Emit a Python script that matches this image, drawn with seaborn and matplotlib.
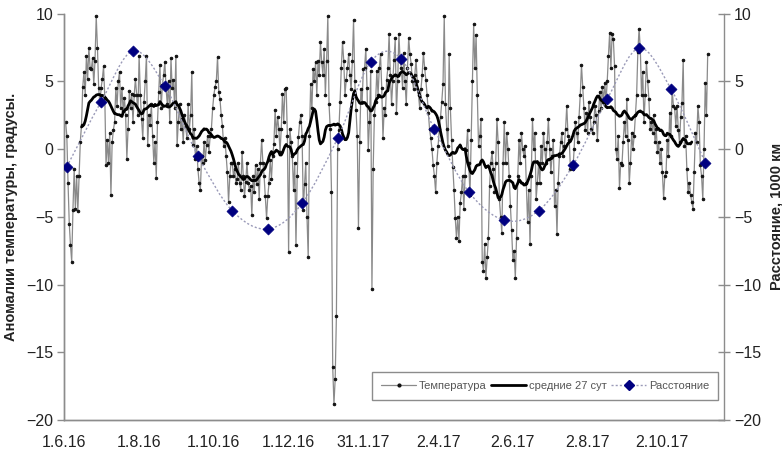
import numpy as np
import pandas as pd
import matplotlib
matplotlib.use('Agg')
import matplotlib.pyplot as plt
import matplotlib.dates as mdates
from matplotlib.lines import Line2D
from matplotlib.path import Path
from matplotlib.patches import PathPatch
import seaborn as sns

# daily temperature anomalies, starting 2.6.2016
temp_start = '2016-06-02'
temperature = [
    2.0, 1.0, -2.5, -5.5, -7.1, -8.3, -4.5, -1.5, -4.4, -2.0,
    -4.6, -2.0, 0.5, 1.8, 4.6, 5.7, 4.0, 6.9, 5.2, 7.5,
    6.0, 5.9, 6.7, 4.8, 6.5, 9.8, 7.5, 4.5, 3.3, 4.5,
    5.2, 6.1, 3.8, -1.2, 0.7, -1.0, 1.2, -3.4, 0.5, 1.4,
    2.0, 4.5, 3.2, 5.0, 5.7, 3.0, 4.5, 2.8, 3.8, 2.5,
    -0.7, 1.5, 4.3, 3.0, 4.1, 2.0, 4.0, 5.2, 4.0, 2.5,
    6.9, 4.0, 2.2, 0.8, 3.5, 5.0, 6.9, 0.3, 2.5, 1.8,
    3.3, 1.0, -1.0, 0.5, -2.1, 2.0, 4.2, 6.2, 3.0, 4.7,
    5.5, 6.4, 4.5, 3.3, 5.0, 2.0, 6.7, 4.5, 5.1, 3.0,
    6.9, 0.3, 2.0, 3.3, 1.5, 2.2, 0.5, 2.5, 1.7, 0.8,
    3.3, 1.5, 2.5, 5.7, 0.3, 1.5, -0.7, 0.2, -1.5, -2.5,
    -3.0, -0.5, -1.0, 0.5, -0.8, 0.3, 1.0, -0.2, 1.0, 1.5,
    3.0, 4.0, 4.6, 5.0, 6.8, 4.2, 3.7, 2.5, 1.7, 0.2,
    0.8, -0.5, -1.7, -3.9, -2.0, -1.0, -1.0, -2.0, -1.5, -2.5,
    -2.2, -1.0, -2.5, -3.0, -0.2, -2.0, -3.5, -2.4, -1.0, -2.5,
    -3.0, -2.7, -4.9, -2.0, -3.2, -1.2, -2.6, -1.5, -3.7, -1.0,
    0.7, -1.0, -2.0, -3.5, -5.1, -3.5, -2.5, -0.8, -2.2, -0.5,
    0.4, 2.9, 1.0, 2.4, 1.5, -0.2, 1.5, 4.1, 2.0, 4.4,
    4.5, 1.0, -7.6, 1.5, 0.5, -0.5, -3.0, -1.0, -7.1, -2.0,
    0.9, 2.0, 2.5, 1.0, -4.5, -2.6, -1.0, -5.0, -8.0, 1.0,
    4.8, 3.0, 5.9, 5.0, 6.4, 4.0, 6.5, 5.5, 7.9, 6.4,
    5.5, 7.4, 4.0, 6.5, 9.8, 3.3, 1.5, -3.2, -16.1, -18.8,
    -17.0, -12.3, 0.0, 1.4, 3.5, 6.0, 7.9, 6.5, 4.0, 5.1,
    6.0, 7.0, 5.5, 4.4, 6.5, 9.5, 5.0, 2.9, 1.0, -5.8,
    0.5, 4.4, 3.5, 5.9, 6.0, 7.4, 4.5, -0.1, 2.0, 5.8,
    -10.3, -1.5, 2.5, 3.5, 5.8, 4.0, 6.0, 7.0, 4.5, 0.8,
    3.0, 2.5, 5.1, 6.0, 8.5, 5.5, 3.3, 5.0, 6.6, 8.2,
    2.7, 5.0, 8.5, 6.5, 6.0, 4.5, 7.1, 5.0, 3.3, 6.0,
    8.2, 7.0, 6.3, 5.0, 4.4, 5.5, 6.6, 5.0, 4.0, 3.0,
    4.4, 5.5, 7.1, 6.0, 5.1, 4.0, 2.7, 1.5, 0.8, 0.0,
    -1.2, -2.0, -3.2, -1.0, 0.2, 1.5, 2.4, 3.5, 4.8, 9.8,
    3.3, 1.5, 0.2, 7.0, 3.0, 0.7, -1.3, -3.0, -5.1, -6.6,
    -5.0, -6.8, -4.0, -3.2, -2.0, -4.4, -2.0, -0.1, 1.4, -1.0,
    -3.4, 0.7, 5.0, 9.2, 6.0, 8.4, 4.0, 0.2, 1.0, 2.2,
    -8.3, -9.0, -7.0, -9.5, -8.0, -6.6, -2.7, -1.0, -0.2, -1.5,
    -3.2, -1.0, 2.2, 0.5, -3.7, -5.0, -6.2, -1.0, 2.0, -1.0,
    1.2, 0.0, -2.0, -4.2, -6.0, -8.2, -7.5, -9.5, -6.6, -2.0,
    0.7, -1.0, 1.2, 0.0, -0.5, 0.2, -2.5, -5.4, -3.0, -7.0,
    -2.0, 2.2, 0.0, 1.2, -3.7, -2.5, -1.0, -2.5, 0.2, -1.0,
    1.2, 0.0, -1.0, 0.5, 2.2, 0.0, -1.7, -0.5, 0.7, -4.2,
    -3.0, -6.3, -2.5, -0.5, 0.5, 1.2, -0.5, 0.2, 1.5, 3.2,
    1.0, 0.7, -1.5, -1.0, -1.5, 0.0, 2.0, 1.2, 0.5, 2.4,
    4.0, 6.2, 4.6, 3.0, 1.4, 2.7, 1.2, 3.5, 2.4, 1.5,
    1.2, 2.0, 3.2, 2.5, 0.7, 2.8, 4.2, 3.0, 4.6, 3.5,
    4.9, 3.5, 5.0, 6.9, 8.6, 6.0, 8.5, 8.1, 6.1, 0.0,
    -0.7, 1.0, -2.9, -1.0, -1.2, 0.5, 2.0, 1.0, 3.7, 0.7,
    -2.5, -1.0, 1.2, 0.0, 1.0, 2.5, 4.0, 7.2, 8.9, 7.4,
    4.0, 5.7, 2.0, 4.0, 6.4, 5.0, 3.7, 1.5, 2.0, 1.2,
    2.5, 0.5, 1.5, -0.2, 0.5, -1.0, 0.0, -1.7, -3.6, -2.0,
    -1.7, 0.7, -0.5, 2.7, 1.0, 4.4, 3.2, 3.0, 1.7, 3.2,
    1.4, 0.5, 2.4, 3.4, 6.6, 0.2, 1.0, -1.5, -3.2, -2.5,
    -3.4, -3.9, -4.4, -1.7, 1.2, 0.5, 3.2, 2.0, -1.2, -2.0,
    -3.7, 0.0, 4.9, 2.5, 7.0,
]

# perigee dates and distance anomaly (1000 km)
dist_dates = ['2016-06-03', '2016-07-01', '2016-07-27', '2016-08-22', '2016-09-18',
              '2016-10-16', '2016-11-14', '2016-12-12', '2017-01-10', '2017-02-06',
              '2017-03-03', '2017-03-30', '2017-04-27', '2017-05-26', '2017-06-23',
              '2017-07-21', '2017-08-18', '2017-09-13', '2017-10-09', '2017-11-06']
distance = [-1.3, 3.5, 7.25, 4.65, -0.5, -4.55, -5.9, -4.0, 0.8, 6.45,
            6.65, 1.45, -3.15, -5.25, -4.55, -1.2, 3.7, 7.45, 4.45, -1.0]

tick_dates = ['2016-06-01', '2016-08-01', '2016-10-01', '2016-12-01', '2017-01-31',
              '2017-04-02', '2017-06-02', '2017-08-02', '2017-10-02']
tick_labels = ['1.6.16', '1.8.16', '1.10.16', '1.12.16', '31.1.17',
               '2.4.17', '2.6.17', '2.8.17', '2.10.17']

df = pd.DataFrame({'date': pd.date_range(temp_start, periods=len(temperature), freq='D'),
                   'temp': temperature})
df['ma27'] = df['temp'].rolling(27, center=True).mean()
dist = pd.DataFrame({'date': pd.to_datetime(dist_dates), 'dist': distance})

sns.set_theme(style='white')
plt.rcParams['font.family'] = ['Liberation Sans', 'DejaVu Sans']

fig = plt.figure(figsize=(7.82, 4.55), dpi=100)
ax = fig.add_axes([0.0823, 0.077, 0.844, 0.893])
ax2 = ax.twinx()

sns.lineplot(data=df, x='date', y='temp', ax=ax, color='#8a8a8a', lw=0.9,
             marker='o', markersize=1.8, markerfacecolor='#111111',
             markeredgecolor='#111111', errorbar=None, zorder=2)
sns.lineplot(data=df.dropna(), x='date', y='ma27', ax=ax, color='black', lw=2.0,
             errorbar=None, zorder=3)

# smoothed dotted line through the perigee points (Excel-style smoothing)
xs = mdates.date2num(dist['date'])
ys = dist['dist'].to_numpy()
pts = np.column_stack([xs, ys])
verts = [tuple(pts[0])]
codes = [Path.MOVETO]
for i in range(len(pts) - 1):
    p0 = pts[i - 1] if i > 0 else pts[i]
    p1, p2 = pts[i], pts[i + 1]
    p3 = pts[i + 2] if i + 2 < len(pts) else pts[i + 1]
    verts += [tuple(p1 + (p2 - p0) / 6), tuple(p2 - (p3 - p1) / 6), tuple(p2)]
    codes += [Path.CURVE4] * 3
ax2.add_patch(PathPatch(Path(verts, codes), fill=False, edgecolor='#9a9ab8',
                        lw=1.0, linestyle=(0, (1.5, 1.5)), zorder=2))
sns.scatterplot(data=dist, x='date', y='dist', ax=ax2, marker='D', s=32,
                color='#000080', edgecolor='#000080', zorder=4)

start = pd.Timestamp('2016-06-01')
for a in (ax, ax2):
    a.set_ylim(-20, 10)
    a.set_xlim(start, start + pd.Timedelta(days=538.6))
    a.set_yticks(np.arange(-20, 11, 5))
    a.set_xlabel('')
    a.spines['top'].set_visible(False)
    for s in ('left', 'right', 'bottom'):
        a.spines[s].set_color('#8c8c8c')
        a.spines[s].set_linewidth(1.0)

ax.set_xticks(pd.to_datetime(tick_dates))
ax.set_xticklabels(tick_labels)
ax.tick_params(axis='both', which='major', direction='out', length=5, width=1,
               color='#8c8c8c', labelsize=11.5, labelcolor='#222222', pad=3)
ax.tick_params(axis='x', pad=6)
ax2.tick_params(axis='y', direction='inout', length=8, width=1, color='#8c8c8c',
                labelsize=11.5, labelcolor='#222222', pad=3)
ax.spines['right'].set_visible(False)

ax.set_ylabel('Аномалии температуры, градусы.', fontsize=10.5, fontweight='bold',
              color='#222222', labelpad=6)
ax2.set_ylabel('Расстояние, 1000 км', fontsize=10.5, fontweight='bold',
               color='#222222', labelpad=6, rotation=90)

handles = [
    Line2D([], [], color='#8a8a8a', lw=0.9, marker='o', markersize=2,
           markerfacecolor='#111111', markeredgecolor='#111111'),
    Line2D([], [], color='black', lw=2.0),
    Line2D([], [], color='#9a9ab8', lw=1.0, linestyle=(0, (1.5, 1.5)), marker='D',
           markersize=5, markerfacecolor='#000080', markeredgecolor='#000080'),
]
leg = ax2.legend(handles, ['Температура', 'средние 27 сут', 'Расстояние'],
                 loc='lower right', bbox_to_anchor=(0.99, 0.049), borderaxespad=0,
                 ncol=3, fontsize=8, frameon=True, fancybox=False, framealpha=1,
                 edgecolor='#8c8c8c', handlelength=3.2, columnspacing=0.4,
                 handletextpad=0.2, borderpad=0.8, labelcolor='#555555',
                 numpoints=1)
leg.get_frame().set_linewidth(1.0)

fig.savefig('out.png', dpi=100, facecolor='white')
